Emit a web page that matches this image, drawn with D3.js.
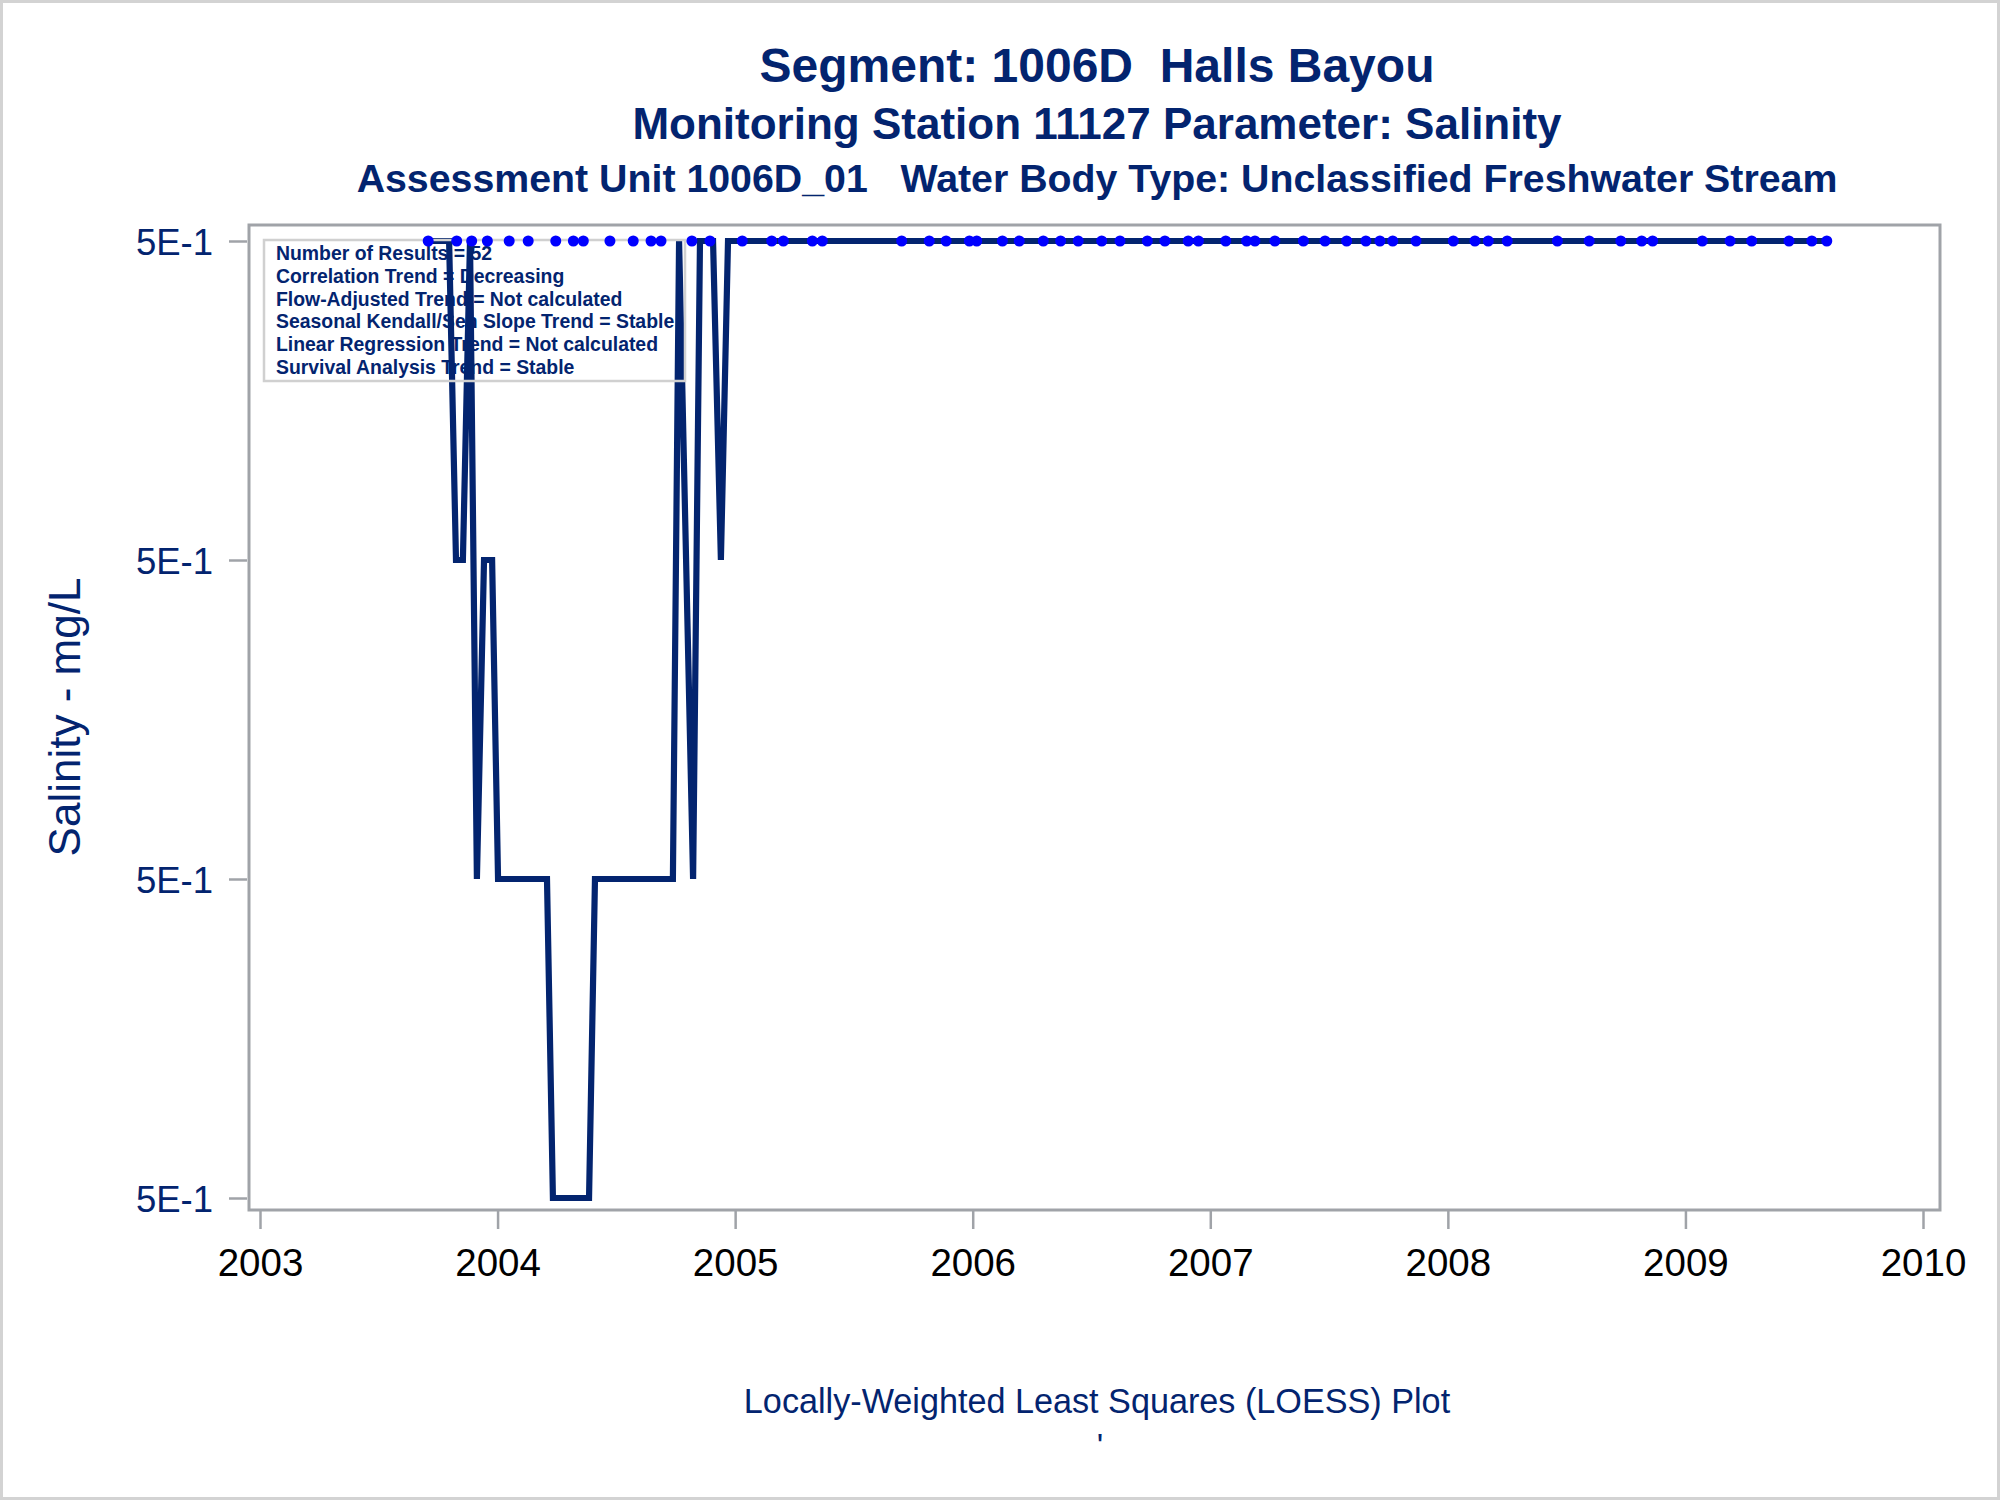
<!DOCTYPE html>
<html>
<head>
<meta charset="utf-8">
<script src="https://cdn.jsdelivr.net/npm/d3@7"></script>
<style>
  html, body { margin: 0; padding: 0; background: #fff; }
  svg text { font-family: Arial, "Liberation Sans", sans-serif; white-space: pre; }
</style>
</head>
<body>
<div id="chart"></div>
<script>
(function() {
  'use strict';

  var
    titles = [
      'Segment: 1006D  Halls Bayou',
      'Monitoring Station 11127 Parameter: Salinity',
      'Assessment Unit 1006D_01   Water Body Type: Unclassified Freshwater Stream'
    ],

    footnote = 'Locally-Weighted Least Squares (LOESS) Plot',

    yTitle = 'Salinity - mg/L',

    insetLines = [
      'Number of Results = 52',
      'Correlation Trend = Decreasing',
      'Flow-Adjusted Trend = Not calculated',
      'Seasonal Kendall/Sen Slope Trend = Stable',
      'Linear Regression Trend = Not calculated',
      'Survival Analysis Trend = Stable'
    ],

    yearTicks = [2003, 2004, 2005, 2006, 2007, 2008, 2009, 2010],

    yTickValues = [0.47, 0.48, 0.49, 0.50],
    yTickLabels = ['5E-1', '5E-1', '5E-1', '5E-1'],

    // sample dates (decimal years) and measured values
    sampleYears = [
      2003.708, 2003.828, 2003.891, 2003.957, 2004.049, 2004.129, 2004.245, 2004.319,
      2004.361, 2004.473, 2004.571, 2004.646, 2004.688, 2004.818, 2004.894, 2005.030,
      2005.154, 2005.203, 2005.325, 2005.367, 2005.701, 2005.817, 2005.888, 2005.986,
      2006.017, 2006.125, 2006.196, 2006.297, 2006.370, 2006.444, 2006.543, 2006.620,
      2006.735, 2006.809, 2006.907, 2006.950, 2007.065, 2007.153, 2007.188, 2007.272,
      2007.392, 2007.483, 2007.574, 2007.655, 2007.714, 2007.768, 2007.866, 2008.023,
      2008.114, 2008.170, 2008.250, 2008.461, 2008.595, 2008.728, 2008.816, 2008.862,
      2009.071, 2009.188, 2009.279, 2009.436, 2009.532, 2009.595
    ],
    sampleValues = [
      0.5, 0.5, 0.5, 0.5, 0.5, 0.5, 0.5, 0.5, 0.5, 0.5, 0.5, 0.5, 0.5, 0.5, 0.5, 0.5,
      0.5, 0.5, 0.5, 0.5, 0.5, 0.5, 0.5, 0.5, 0.5, 0.5, 0.5, 0.5, 0.5, 0.5, 0.5, 0.5,
      0.5, 0.5, 0.5, 0.5, 0.5, 0.5, 0.5, 0.5, 0.5, 0.5, 0.5, 0.5, 0.5, 0.5, 0.5, 0.5,
      0.5, 0.5, 0.5, 0.5, 0.5, 0.5, 0.5, 0.5, 0.5, 0.5, 0.5, 0.5, 0.5, 0.5
    ],

    // LOESS curve
    loessYears = [
      2003.708, 2003.796, 2003.825, 2003.854, 2003.884, 2003.913, 2003.943, 2003.977,
      2004.002, 2004.208, 2004.233, 2004.385, 2004.410, 2004.738, 2004.764, 2004.823,
      2004.852, 2004.907, 2004.940, 2004.970, 2009.595
    ],
    loessValues = [
      0.50, 0.50, 0.49, 0.49, 0.50, 0.48, 0.49, 0.49,
      0.48, 0.48, 0.47, 0.47, 0.48, 0.48, 0.50, 0.48,
      0.50, 0.50, 0.49, 0.50, 0.50
    ];

  var
    W = 2000,
    H = 1500,
    NAVY = '#03246f',
    FRAME = { left: 249, right: 1940, top: 225, bottom: 1210 },
    TITLE_X = 1097;

  var svg = d3.select('#chart')
    .append('svg')
    .attr('width', W)
    .attr('height', H);

  svg.append('rect')
    .attr('x', 1.5).attr('y', 1.5)
    .attr('width', W - 3).attr('height', H - 3)
    .attr('fill', '#fff')
    .attr('stroke', '#d3d3d3')
    .attr('stroke-width', 3);

  var x = d3.scaleLinear().domain([2003, 2010]).range([260, 1923]);
  var y = d3.scaleLinear().domain([0.47, 0.50]).range([1198, 241]);

  // titles
  var titleSizes = [48, 44, 39.3],
      titleBase = [82, 139, 192];

  svg.selectAll('text.title')
    .data(titles)
    .enter()
    .append('text')
    .attr('class', 'title')
    .attr('x', TITLE_X)
    .attr('y', function(d, i) { return titleBase[i]; })
    .attr('text-anchor', 'middle')
    .attr('font-weight', 'bold')
    .attr('font-size', function(d, i) { return titleSizes[i]; })
    .attr('fill', NAVY)
    .text(function(d) { return d; });

  // inset box (under the data)
  svg.append('rect')
    .attr('x', 264).attr('y', 240)
    .attr('width', 421).attr('height', 141)
    .attr('fill', '#fff');

  svg.selectAll('text.inset')
    .data(insetLines)
    .enter()
    .append('text')
    .attr('class', 'inset')
    .attr('x', 276)
    .attr('y', function(d, i) { return 260 + i * 22.8; })
    .attr('font-weight', 'bold')
    .attr('font-size', 19.4)
    .attr('fill', NAVY)
    .text(function(d) { return d; });

  // axes
  var yAxis = d3.axisLeft(y)
    .tickValues(yTickValues)
    .tickSize(18)
    .tickPadding(16)
    .tickFormat(function(d, i) { return yTickLabels[i]; });

  var gy = svg.append('g')
    .attr('transform', 'translate(' + (FRAME.left - 2) + ',0)')
    .call(yAxis);
  gy.select('.domain').remove();
  gy.selectAll('line').attr('stroke', '#a0a3a8').attr('stroke-width', 2.5);
  gy.selectAll('text')
    .attr('font-family', 'Arial, "Liberation Sans", sans-serif')
    .attr('font-size', 36.5)
    .attr('fill', NAVY)
    .attr('dy', '0.36em');

  var xAxis = d3.axisBottom(x)
    .tickValues(yearTicks)
    .tickSize(18)
    .tickPadding(20)
    .tickFormat(d3.format('d'));

  var gx = svg.append('g')
    .attr('transform', 'translate(0,' + (FRAME.bottom + 1) + ')')
    .call(xAxis);
  gx.select('.domain').remove();
  gx.selectAll('line').attr('stroke', '#a0a3a8').attr('stroke-width', 2.5);
  gx.selectAll('text')
    .attr('font-family', 'Arial, "Liberation Sans", sans-serif')
    .attr('font-size', 38.5)
    .attr('fill', '#000')
    .attr('dy', '0.71em');

  // y title
  svg.append('text')
    .attr('transform', 'translate(80,717) rotate(-90)')
    .attr('text-anchor', 'middle')
    .attr('font-size', 44)
    .attr('fill', NAVY)
    .text(yTitle);

  // LOESS line
  var loessPts = loessYears.map(function(d, i) {
    return [d, loessValues[i]];
  });

  svg.append('path')
    .datum(loessPts)
    .attr('fill', 'none')
    .attr('stroke', NAVY)
    .attr('stroke-width', 6.2)
    .attr('stroke-linejoin', 'miter')
    .attr('d', d3.line()
      .x(function(d) { return x(d[0]); })
      .y(function(d) { return y(d[1]); }));

  // inset border on top of line
  svg.append('rect')
    .attr('x', 264).attr('y', 240)
    .attr('width', 421).attr('height', 141)
    .attr('fill', 'none')
    .attr('stroke', '#d0d0d0')
    .attr('stroke-width', 2.5);

  // sample markers
  svg.selectAll('circle.sample')
    .data(sampleYears)
    .enter()
    .append('circle')
    .attr('class', 'sample')
    .attr('cx', function(d) { return x(d); })
    .attr('cy', function(d, i) { return y(sampleValues[i]); })
    .attr('r', 5.5)
    .attr('fill', '#0000ff');

  // plot frame
  svg.append('rect')
    .attr('x', FRAME.left).attr('y', FRAME.top)
    .attr('width', FRAME.right - FRAME.left)
    .attr('height', FRAME.bottom - FRAME.top)
    .attr('fill', 'none')
    .attr('stroke', '#a0a3a8')
    .attr('stroke-width', 3);

  // footnote
  svg.append('text')
    .attr('x', TITLE_X)
    .attr('y', 1413)
    .attr('text-anchor', 'middle')
    .attr('font-size', 34.2)
    .attr('fill', NAVY)
    .text(footnote);

  svg.append('text')
    .attr('x', 1100)
    .attr('y', 1457)
    .attr('text-anchor', 'middle')
    .attr('font-size', 34)
    .attr('fill', NAVY)
    .text("'");
})();
</script>
</body>
</html>
